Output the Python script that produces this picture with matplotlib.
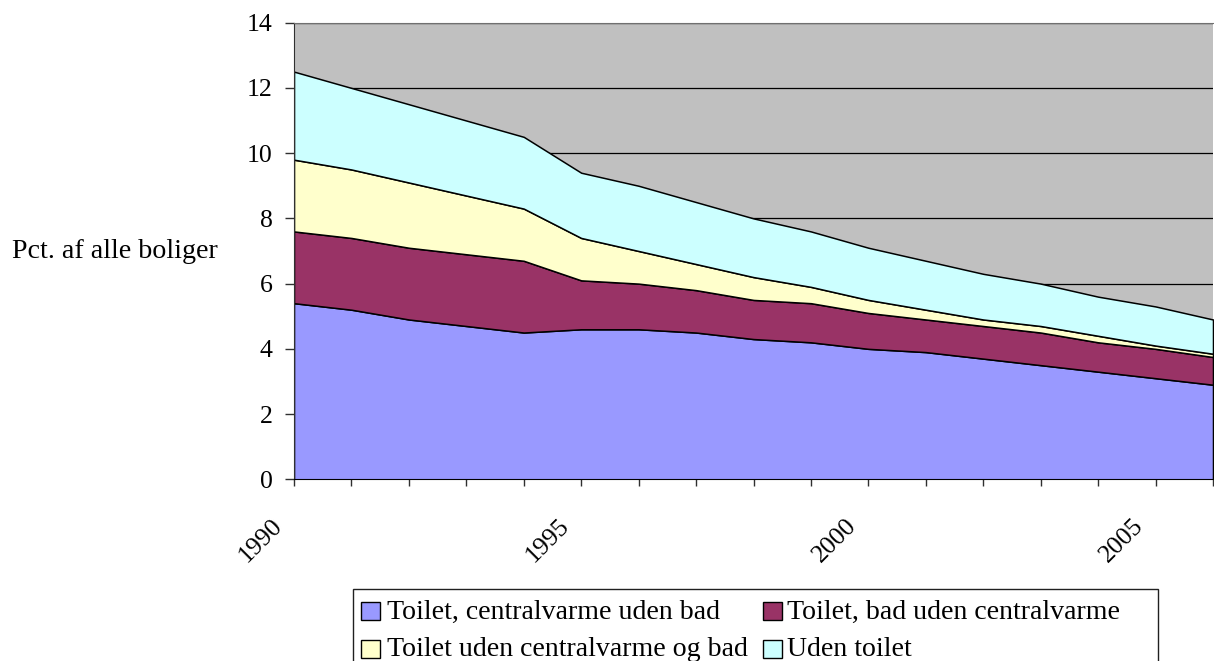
import numpy as np
import matplotlib
matplotlib.use("Agg")
import matplotlib.pyplot as plt
import matplotlib.transforms as mtransforms
from matplotlib.patches import Rectangle

# data, percent of all dwellings
years = list(range(1990, 2007))
toilet_cv_no_bath = [5.4, 5.2, 4.9, 4.7, 4.5, 4.6, 4.6, 4.5, 4.3, 4.2, 4.0, 3.9, 3.7, 3.5, 3.3, 3.1, 2.9]
toilet_bath_no_cv = [2.2, 2.2, 2.2, 2.2, 2.2, 1.5, 1.4, 1.3, 1.2, 1.2, 1.1, 1.0, 1.0, 1.0, 0.9, 0.9, 0.85]
toilet_no_cv_bath = [2.2, 2.1, 2.0, 1.8, 1.6, 1.3, 1.0, 0.8, 0.7, 0.5, 0.4, 0.3, 0.2, 0.2, 0.2, 0.1, 0.1]
no_toilet = [2.7, 2.5, 2.4, 2.3, 2.2, 2.0, 2.0, 1.9, 1.8, 1.7, 1.6, 1.5, 1.4, 1.3, 1.2, 1.2, 1.05]

labels = ["Toilet, centralvarme uden bad", "Toilet, bad uden centralvarme",
          "Toilet uden centralvarme og bad", "Uden toilet"]
colors = ["#9999FF", "#993366", "#FFFFCC", "#CCFFFF"]
xtick_labels = [1990, 1995, 2000, 2005]

plt.rcParams['font.family'] = ['Liberation Serif', 'DejaVu Serif']

W, H = 1214, 661
fig = plt.figure(figsize=(W / 100, H / 100), dpi=100)
ax = fig.add_axes([294 / W, 1 - 479.3 / H, 919 / W, 456.6 / H])
ax.set_facecolor("#C0C0C0")

ax.stackplot(years, toilet_cv_no_bath, toilet_bath_no_cv, toilet_no_cv_bath, no_toilet,
             colors=colors, edgecolor="black", linewidth=1.1, zorder=2)

ax.set_xlim(years[0], years[-1])
ax.set_ylim(0, 14)
ax.set_yticks(np.arange(0, 15, 2))
ax.yaxis.grid(True, color="black", linewidth=0.9, zorder=1)
ax.set_axisbelow(True)

ax.set_xticks(years, minor=True)
ax.set_xticks(xtick_labels)
ax.set_xticklabels([str(y) for y in xtick_labels], rotation=45, ha="right",
                   va="baseline", rotation_mode="anchor")
ax.tick_params(axis="x", which="both", length=5, width=1, direction="out",
               pad=29, labelsize=18.5, color="#303030")
ax.tick_params(axis="y", length=6.5, width=1, direction="out", pad=9,
               labelsize=18.5, color="#303030")

# shift the rotated year labels a little to the left, as in the original
shift = mtransforms.ScaledTranslation(-11 / 100, 0, fig.dpi_scale_trans)
for lab in ax.get_xticklabels():
    lab.set_transform(lab.get_transform() + shift)

ax.spines["right"].set_visible(False)
ax.spines["top"].set_color("#707070")
ax.spines["left"].set_color("#303030")
ax.spines["bottom"].set_color("black")

fig.text(12 / W, 1 - 252 / H, "Pct. af alle boliger", fontsize=20.2,
         ha="left", va="center")

# legend box (runs off the bottom of the picture like the original)
fig.patches.append(Rectangle((353 / W, 1 - 720 / H), (1158 - 353) / W, (720 - 589) / H,
                             transform=fig.transFigure, facecolor="white",
                             edgecolor="#202020", linewidth=1.0, zorder=0))
sq = 18.5
rows = [611, 649]
baselines = [619, 656]
cols = [(361, 387), (763, 787)]
for i, (lab, col) in enumerate(zip(labels, colors)):
    r, c = divmod(i, 2)
    xs, xt = cols[c]
    yc = rows[r]
    fig.patches.append(Rectangle((xs / W, 1 - (yc + sq / 2) / H), sq / W, sq / H,
                                 transform=fig.transFigure, facecolor=col,
                                 edgecolor="black", linewidth=1.0, zorder=1))
    fig.text(xt / W, 1 - baselines[r] / H, lab, fontsize=20.1, ha="left", va="baseline")

fig.savefig("out.png", dpi=100)
